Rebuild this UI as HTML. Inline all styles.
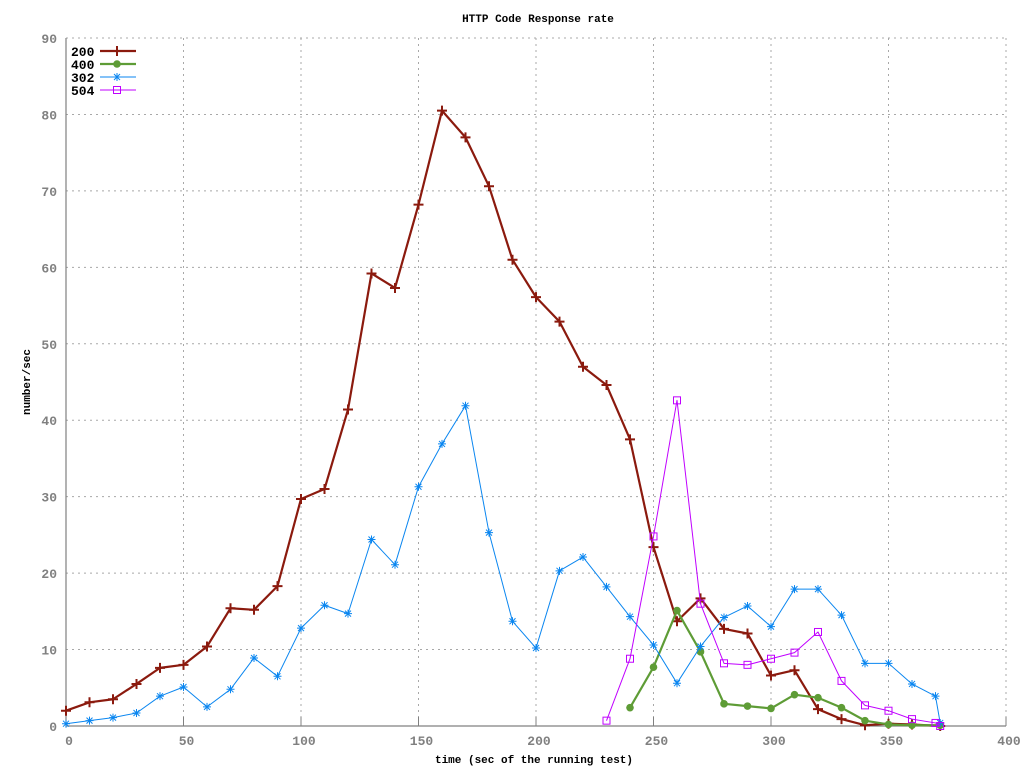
<!DOCTYPE html>
<html><head><meta charset="utf-8"><style>
body{margin:0;background:#fff}
svg{display:block}
text{font-family:"Liberation Mono",monospace;font-weight:bold;font-size:13px}
</style></head><body>
<svg id="c" width="1024" height="768" xmlns="http://www.w3.org/2000/svg"></svg>
<script>
const xTicks=[0,50,100,150,200,250,300,350,400];
const yTicks=[0,10,20,30,40,50,60,70,80,90];
const x200=[0,10,20,30,40,50,60,70,80,90,100,110,120,130,140,150,160,170,180,190,200,210,220,230,240,250,260,270,280,290,300,310,320,330,340,350,360,372];
const v200=[2,3.1,3.5,5.5,7.6,8,10.4,15.4,15.2,18.3,29.7,31,41.4,59.2,57.3,68.2,80.5,77,70.6,61,56.1,52.9,47,44.6,37.5,23.4,13.7,16.7,12.7,12.1,6.6,7.3,2.2,0.9,0.1,0.3,0.2,0];
const x400=[240,250,260,270,280,290,300,310,320,330,340,350,360,372];
const v400=[2.4,7.7,15.1,9.7,2.9,2.6,2.3,4.1,3.7,2.4,0.7,0.2,0.1,0.1];
const x302=[0,10,20,30,40,50,60,70,80,90,100,110,120,130,140,150,160,170,180,190,200,210,220,230,240,250,260,270,280,290,300,310,320,330,340,350,360,370,372];
const v302=[0.3,0.7,1.1,1.7,3.9,5.1,2.5,4.8,8.9,6.5,12.8,15.8,14.7,24.4,21.1,31.3,36.9,41.9,25.3,13.7,10.2,20.3,22.1,18.2,14.3,10.6,5.6,10.4,14.2,15.7,13,17.9,17.9,14.5,8.2,8.2,5.5,3.9,0.4];
const x504=[230,240,250,260,270,280,290,300,310,320,330,340,350,360,370,372];
const v504=[0.7,8.8,24.8,42.6,16,8.2,8,8.8,9.6,12.3,5.9,2.7,2,0.9,0.4,0];

const L=66,R=1006,T=38,B=726;
const sx=v=>L+(v-0)/400*(R-L);
const sy=v=>B-v/90*(B-T);
const svg=document.getElementById('c');
const NS='http://www.w3.org/2000/svg';
function el(t,a,p){const e=document.createElementNS(NS,t);for(const k in a)e.setAttribute(k,a[k]);(p||svg).appendChild(e);return e;}

const grid=el('g',{});


xTicks.forEach(t=>{if(t>0){const l=el('line',{x1:sx(t),x2:sx(t),y1:T,y2:B,stroke:'#a8a8a8','stroke-dasharray':'2,4'},grid);}});
yTicks.forEach(t=>{if(t>0){const l=el('line',{x1:L,x2:R,y1:sy(t),y2:sy(t),stroke:'#a8a8a8','stroke-dasharray':'2,4'},grid);}});

const ax=el('path',{d:`M${L},${T}V${B}H${R}`,stroke:'#808080',fill:'none','stroke-width':1.2});


xTicks.forEach(t=>{
  const tk=el('line',{x1:sx(t),x2:sx(t),y1:B,y2:B-9,stroke:'#808080'});
  
  
  const tx=el('text',{x:sx(t)+3,y:B+19,'text-anchor':'middle',fill:'#808080'});tx.textContent=t;
  
  
});
yTicks.forEach(t=>{
  const tx=el('text',{x:L-9,y:sy(t)+5,'text-anchor':'end',fill:'#808080'});tx.textContent=t;
  
  
});
const ti=el('text',{x:538,y:22,'text-anchor':'middle',fill:'#000',style:'font-size:11px'});ti.textContent='HTTP Code Response rate';


const xl=el('text',{x:534,y:763,'text-anchor':'middle',fill:'#000',style:'font-size:11px'});xl.textContent='time (sec of the running test)';


const yl=el('text',{x:0,y:0,'text-anchor':'middle',fill:'#000',style:'font-size:11px',transform:'translate(30,382) rotate(-90)'});yl.textContent='number/sec';



function marker(g,type,x,y,c){
  if(type==='plus'){el('path',{d:`M${x-5},${y}H${x+5}M${x},${y-5}V${y+5}`,stroke:c,'stroke-width':2},g);}
  else if(type==='dot'){el('circle',{cx:x,cy:y,r:3.8,fill:c},g);}
  else if(type==='star'){el('path',{d:`M${x-4},${y}H${x+4}M${x},${y-4}V${y+4}M${x-3},${y-3}L${x+3},${y+3}M${x-3},${y+3}L${x+3},${y-3}`,stroke:c,'stroke-width':1},g);}
  else {el('rect',{x:x-3.5,y:y-3.5,width:7,height:7,fill:'none',stroke:c,'stroke-width':1},g);}
}
function series(name,xs,vs,c,w,type,ly){
  const g=el('g',{});
  
  
  el('polyline',{points:xs.map((x,i)=>sx(x)+','+sy(vs[i])).join(' '),fill:'none',stroke:c,'stroke-width':w,'stroke-linejoin':'round'},g);
  xs.forEach((x,i)=>marker(g,type,sx(x),sy(vs[i]),c));
  const lg=el('g',{});
  
  
  const t=el('text',{x:71,y:ly+5,fill:'#000'},lg);t.textContent=name;
  el('line',{x1:100,x2:136,y1:ly,y2:ly,stroke:c,'stroke-width':w},lg);
  marker(lg,type,117,ly,c);
}
series('200',x200,v200,'#8b1a0e',2.2,'plus',51);
series('400',x400,v400,'#5e9c36',2.2,'dot',64);
series('302',x302,v302,'#0a86f0',1,'star',77);
series('504',x504,v504,'#c000ff',1,'box',90);
</script>
</body></html>
